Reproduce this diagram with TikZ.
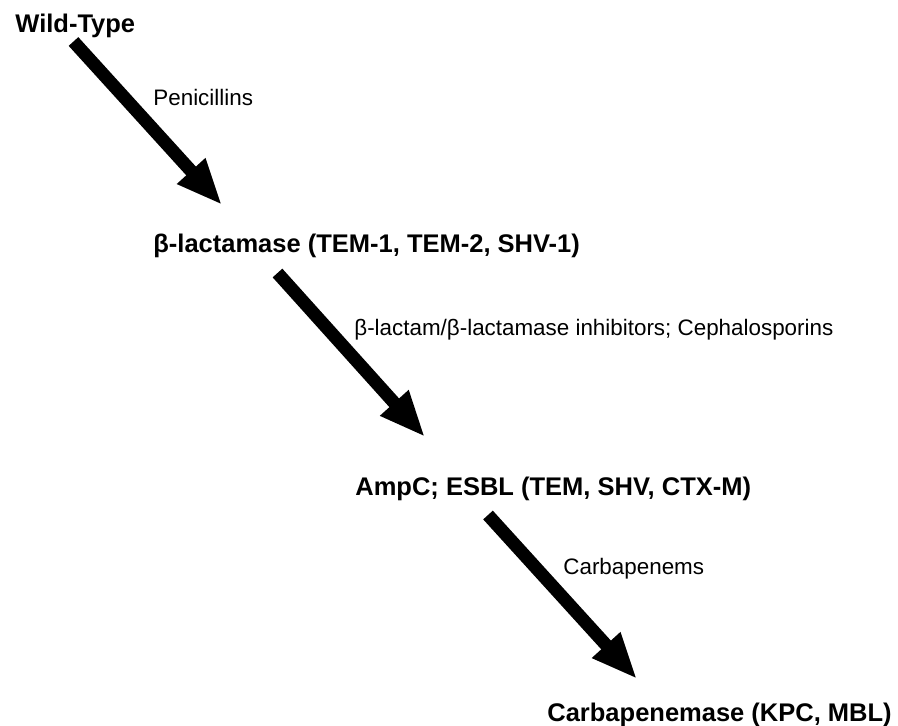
\documentclass[tikz,border=0pt]{standalone}
\usepackage{fontspec}
\setmainfont{Liberation Sans}
\usetikzlibrary{arrows.meta}
\begin{document}
\begin{tikzpicture}[x=0.5pt,y=-0.5pt,
  stage/.style={anchor=base west,inner sep=0pt,font=\fontsize{12.75pt}{15pt}\selectfont\bfseries},
  drug/.style={anchor=base west,inner sep=0pt,font=\fontsize{11.2pt}{13pt}\selectfont},
  bigarrow/.style={line width=6.5pt,-{Triangle[length=23pt,width=17.5pt]}}]
\useasboundingbox (0,0) rectangle (898,725);
\node[stage] (wt) at (15,32) {Wild-Type};
\node[drug] (pen) at (153,105) {Penicillins};
\node[stage] (bl) at (153,252) {β-lactamase (TEM-1, TEM-2, SHV-1)};
\node[drug] (inh) at (354,335) {β-lactam/β-lactamase inhibitors; Cephalosporins};
\node[stage] (amp) at (355,495) {AmpC; ESBL (TEM, SHV, CTX-M)};
\node[drug] (carb) at (563,574) {Carbapenems};
\node[stage] (kpc) at (547,721) {Carbapenemase (KPC, MBL)};
\coordinate (t1) at (73.5,41.5);
\coordinate (h1) at (222,205);
\coordinate (t2) at (277.5,273);
\coordinate (h2) at (425,437);
\coordinate (t3) at (488,515);
\coordinate (h3) at (637,679);
\draw[bigarrow] (t1) -- (h1);
\draw[bigarrow] (t2) -- (h2);
\draw[bigarrow] (t3) -- (h3);
\end{tikzpicture}
\end{document}
